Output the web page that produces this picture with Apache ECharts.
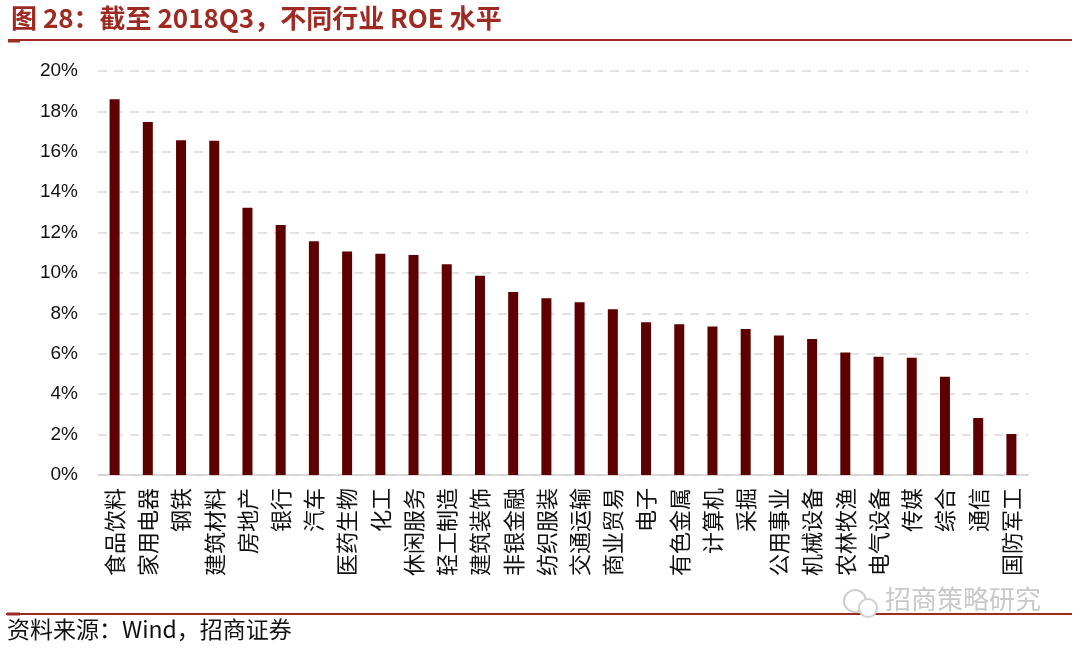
<!DOCTYPE html>
<html lang="zh">
    <head>
        <meta charset="utf-8">
        <title>截至2018Q3，不同行业ROE水平</title>
        <style>
            html, body { margin: 0; padding: 0; background: #fff; }
        </style>
    </head>

    <body>
        <div id="echart" style="width: 1080px; height: 652px;"></div>
        <script src="https://cdn.jsdelivr.net/npm/echarts@6/dist/echarts.min.js"></script>
        <script>
            // 行业及 ROE（%）
            let industries = ['食品饮料', '家用电器', '钢铁', '建筑材料', '房地产', '银行', '汽车', '医药生物',
                '化工', '休闲服务', '轻工制造', '建筑装饰', '非银金融', '纺织服装', '交通运输', '商业贸易',
                '电子', '有色金属', '计算机', '采掘', '公用事业', '机械设备', '农林牧渔', '电气设备',
                '传媒', '综合', '通信', '国防军工'];
            let roe = [18.6, 17.47, 16.57, 16.55, 13.23, 12.38, 11.57, 11.07,
                10.95, 10.89, 10.43, 9.87, 9.06, 8.75, 8.55, 8.2,
                7.56, 7.46, 7.35, 7.23, 6.9, 6.73, 6.07, 5.86,
                5.81, 4.87, 2.82, 2.03];
            let yTicks = [0, 2, 4, 6, 8, 10, 12, 14, 16, 18, 20];

            let red = '#9E2A22';
            let myChart = echarts.init(document.getElementById('echart'));
            let option = {
                backgroundColor: '#fff',
                title: {
                    text: '图 28：截至 2018Q3，不同行业 ROE 水平',
                    left: 6,
                    top: 0,
                    textStyle: {
                        color: red,
                        fontSize: 26,
                        fontWeight: 'bold',
                        fontFamily: '"Noto Sans CJK SC", "Liberation Sans", sans-serif'
                    }
                },
                grid: { left: 98, right: 52, top: 71, bottom: 177 },
                xAxis: {
                    type: 'category',
                    data: industries,
                    axisLine: { lineStyle: { color: '#D0D0D0', width: 1.5 } },
                    axisTick: { show: false },
                    axisLabel: {
                        interval: 0,
                        rotate: 90,
                        margin: 13,
                        color: '#111',
                        fontSize: 22,
                        fontFamily: '"Noto Sans CJK SC", serif'
                    }
                },
                yAxis: {
                    type: 'value',
                    min: yTicks[0],
                    max: yTicks[yTicks.length - 1],
                    interval: 2,
                    axisLine: { show: false },
                    axisTick: { show: false },
                    axisLabel: {
                        formatter: '{value}%',
                        color: '#111',
                        fontSize: 19,
                        margin: 20,
                        fontFamily: '"Liberation Sans", Arial, sans-serif'
                    },
                    splitLine: { lineStyle: { color: '#D9D9D9', type: [9, 7], width: 1.5 } }
                },
                series: [{
                    type: 'bar',
                    data: roe,
                    barWidth: 10,
                    itemStyle: { color: '#5E0000' }
                }],
                graphic: [
                    { type: 'line', shape: { x1: 8, y1: 40, x2: 1072, y2: 40 }, style: { stroke: red, lineWidth: 2 } },
                    { type: 'line', shape: { x1: 8, y1: 41, x2: 20, y2: 41 }, style: { stroke: red, lineWidth: 3 } },
                    { type: 'line', shape: { x1: 6, y1: 614, x2: 1072, y2: 614 }, style: { stroke: red, lineWidth: 2 } },
                    { type: 'line', shape: { x1: 7, y1: 614, x2: 20, y2: 614 }, style: { stroke: red, lineWidth: 3 } },
                    {
                        type: 'text', left: 7, top: 618,
                        style: {
                            text: '资料来源：Wind，招商证券',
                            fill: '#111',
                            fontSize: 23,
                            fontFamily: '"Noto Sans CJK SC", sans-serif'
                        }
                    },
                    {
                        type: 'text', left: 885, top: 586,
                        style: {
                            text: '招商策略研究',
                            fill: '#C8C8C8',
                            fontSize: 26,
                            fontFamily: '"Noto Sans CJK SC", sans-serif'
                        }
                    },
                    { type: 'circle', shape: { cx: 855, cy: 601, r: 11 }, style: { fill: 'none', stroke: '#CFCFCF', lineWidth: 2 } },
                    { type: 'circle', shape: { cx: 868, cy: 608, r: 9 }, style: { fill: '#fff', stroke: '#CFCFCF', lineWidth: 2 } }
                ]
            };
            myChart.setOption(option);
        </script>
    </body>
</html>
